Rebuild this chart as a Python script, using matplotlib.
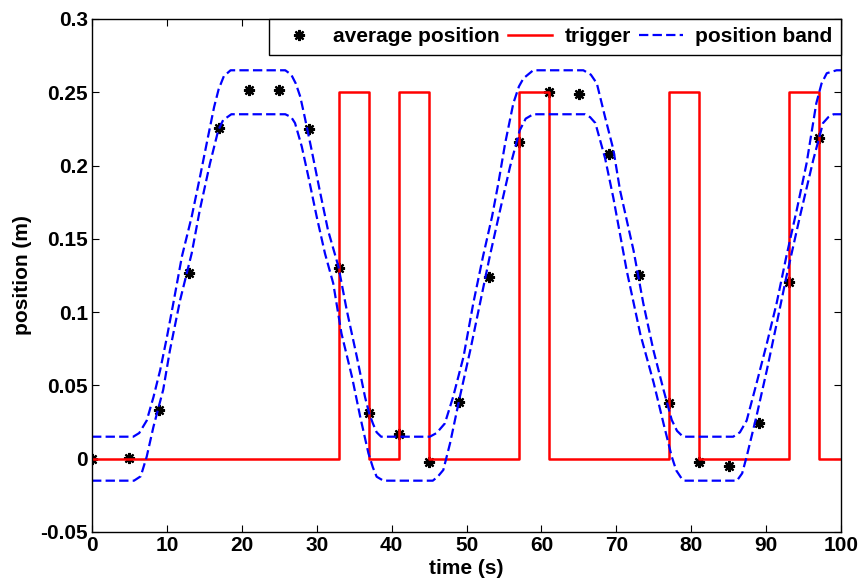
import numpy as np
import matplotlib
matplotlib.use('Agg')
import matplotlib.pyplot as plt

plt.rcParams['font.family'] = ['Liberation Sans', 'DejaVu Sans']
plt.rcParams['font.weight'] = 'bold'

# averaged position samples
avg_t = [0, 5, 9, 13, 17, 21, 25, 29, 33, 37, 41, 45, 49, 53, 57, 61, 65, 69, 73, 77, 81, 85, 89, 93, 97]
avg_pos = [0.0, 0.0007, 0.033, 0.1265, 0.2254, 0.2516, 0.2516, 0.2247, 0.1303, 0.031, 0.0169, -0.002,
           0.0389, 0.124, 0.2163, 0.2504, 0.2488, 0.2079, 0.1253, 0.0382, -0.002, -0.005, 0.0241, 0.1208, 0.2186]

# trigger signal (step, value held until next time)
trig_t = [0, 33, 37, 41, 45, 57, 61, 77, 81, 93, 97, 100]
trig_v = [0, 0.25, 0, 0.25, 0, 0.25, 0, 0.25, 0, 0.25, 0, 0]

# position band, upper edge
band_up_t = [0, 5.5, 6.3, 7.3, 8.2, 9.1, 10.0, 10.85, 12.0, 13.3, 14.4, 15.5, 16.3, 16.9, 17.6, 18.5,
             25.8, 26.6, 27.2, 27.8, 28.4, 29.3, 30.4, 31.5, 32.9, 34.0, 35.35, 36.45, 37.0, 37.5, 38.0, 38.6,
             45.1, 46.0, 47.1, 48.2, 49.6, 50.9, 52.2, 53.4, 54.25, 55.15, 56.25, 57.0, 57.6, 58.9,
             65.6, 66.6, 67.4, 68.5, 69.6, 70.5, 72.3, 73.6, 74.95, 76.3, 77.4, 78.1, 78.9,
             85.6, 86.5, 87.4, 88.7, 90.1, 91.4, 92.7, 94.1, 95.4, 96.7, 97.4, 98.1, 99.4, 100]
band_up = [0.015, 0.015, 0.0175, 0.026, 0.042, 0.0605, 0.083, 0.106, 0.138, 0.165, 0.192, 0.220, 0.240, 0.252, 0.261, 0.265,
           0.265, 0.262, 0.256, 0.247, 0.233, 0.211, 0.183, 0.156, 0.131, 0.1015, 0.0696, 0.042, 0.031, 0.024, 0.018, 0.015,
           0.015, 0.0175, 0.024, 0.042, 0.0696, 0.106, 0.138, 0.165, 0.188, 0.215, 0.2425, 0.254, 0.2595, 0.265,
           0.265, 0.262, 0.256, 0.233, 0.211, 0.183, 0.142, 0.106, 0.074, 0.047, 0.0264, 0.019, 0.015,
           0.015, 0.018, 0.026, 0.051, 0.0787, 0.106, 0.138, 0.170, 0.2015, 0.2425, 0.256, 0.263, 0.265, 0.265]

# position band, lower edge
band_lo_t = [0, 5.6, 6.5, 7.3, 8.2, 9.5, 10.4, 11.75, 13.3, 14.4, 15.75, 16.85, 17.5, 18.6,
             25.8, 26.6, 27.1, 28.0, 28.9, 30.0, 31.1, 32.2, 33.3, 34.7, 35.8, 36.9, 37.5, 38.0, 38.9,
             45.5, 46.2, 46.9, 47.8, 49.1, 50.5, 51.8, 53.1, 54.5, 55.8, 57.1, 57.9, 58.9,
             65.8, 66.5, 67.2, 68.5, 69.6, 71.4, 73.2, 75.0, 76.3, 77.4, 78.0, 78.7, 79.1,
             86.1, 86.8, 87.4, 88.7, 90.1, 91.4, 92.7, 94.5, 96.3, 97.6, 98.3, 99.0, 100]
band_lo = [-0.015, -0.015, -0.012, 0.0014, 0.0218, 0.047, 0.074, 0.108, 0.140, 0.170, 0.2015, 0.224, 0.231, 0.235,
           0.235, 0.233, 0.229, 0.213, 0.192, 0.165, 0.140, 0.1197, 0.0855, 0.056, 0.0287, 0.0037, -0.006, -0.0123, -0.015,
           -0.015, -0.012, -0.0077, 0.0105, 0.042, 0.074, 0.106, 0.138, 0.170, 0.199, 0.224, 0.232, 0.235,
           0.235, 0.233, 0.229, 0.205, 0.178, 0.128, 0.085, 0.0515, 0.024, 0.0014, -0.008, -0.0134, -0.015,
           -0.015, -0.010, 0.0014, 0.0287, 0.0605, 0.092, 0.124, 0.165, 0.204, 0.229, 0.233, 0.235, 0.235]

fs = 15

fig = plt.figure(figsize=(8.61, 5.86), dpi=100)
ax = fig.add_axes([0.1069, 0.0922, 0.8699, 0.8754])

asterisk = (8, 2, 0)
ax.plot(avg_t, avg_pos, linestyle='none', marker=asterisk, color='k', markersize=8,
        markeredgewidth=1.6, label='average position')
ax.plot(trig_t, trig_v, '-', color=(1, 0, 0), linewidth=1.8, drawstyle='steps-post', label='trigger')
ax.plot(band_up_t, band_up, '--', color=(0, 0, 1), linewidth=1.6, dashes=(4.2, 1.9), label='position band')
ax.plot(band_lo_t, band_lo, '--', color=(0, 0, 1), linewidth=1.6, dashes=(4.2, 1.9))

ax.set_xlim(0, 100)
ax.set_ylim(-0.05, 0.3)
ax.set_xticks(np.arange(0, 101, 10))
yt = [-0.05, 0, 0.05, 0.1, 0.15, 0.2, 0.25, 0.3]
ax.set_yticks(yt)
ax.set_yticklabels(['-0.05', '0', '0.05', '0.1', '0.15', '0.2', '0.25', '0.3'])
ax.tick_params(direction='in', top=True, right=True, labelsize=fs, length=5, width=0.8, pad=3)
for lab in ax.get_xticklabels() + ax.get_yticklabels():
    lab.set_fontweight('bold')
for s in ax.spines.values():
    s.set_linewidth(1.0)

ax.set_xlabel('time (s)', fontsize=fs, fontweight='bold', labelpad=3)
ax.set_ylabel('position (m)', fontsize=fs, fontweight='bold', labelpad=6)

leg = ax.legend(loc='upper right', bbox_to_anchor=(1, 1), ncol=3, borderaxespad=0,
                fancybox=False, framealpha=1, edgecolor='k', handlelength=2.1,
                columnspacing=0.4, handletextpad=0.6, borderpad=0.4,
                prop={'size': fs, 'weight': 'bold'})
leg.get_frame().set_linewidth(1.0)

fig.savefig('out.png', dpi=100)
